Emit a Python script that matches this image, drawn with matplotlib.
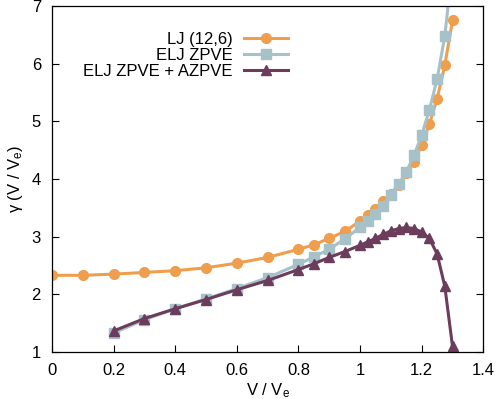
import matplotlib
matplotlib.use("Agg")
import matplotlib.pyplot as plt

plt.rcParams['font.family'] = ['Liberation Sans', 'DejaVu Sans']
plt.rcParams['mathtext.fontset'] = 'custom'
plt.rcParams['mathtext.rm'] = 'Liberation Sans'
plt.rcParams['mathtext.it'] = 'Liberation Sans:italic'

# Data
lj_x = [0, 0.1, 0.2, 0.3, 0.4, 0.5, 0.6, 0.7, 0.8, 0.85, 0.9, 0.95, 1.0, 1.025,
        1.05, 1.075, 1.1, 1.125, 1.15, 1.175, 1.2, 1.225, 1.25, 1.275, 1.3]
lj_y = [2.33, 2.33, 2.35, 2.38, 2.41, 2.46, 2.54, 2.64, 2.78, 2.86, 2.97, 3.09, 3.27, 3.37,
        3.48, 3.61, 3.74, 3.90, 4.10, 4.30, 4.59, 4.95, 5.39, 5.97, 6.75]

zp_x = [0.2, 0.3, 0.4, 0.5, 0.6, 0.7, 0.8, 0.85, 0.9, 0.95, 1.0, 1.025, 1.05, 1.075,
        1.1, 1.125, 1.15, 1.175, 1.2, 1.225, 1.25, 1.275, 1.3]
zp_y = [1.33, 1.56, 1.75, 1.92, 2.10, 2.29, 2.52, 2.65, 2.78, 2.96, 3.16, 3.27, 3.40, 3.54,
        3.73, 3.91, 4.12, 4.41, 4.76, 5.20, 5.73, 6.48, 7.7]

az_x = [0.2, 0.3, 0.4, 0.5, 0.6, 0.7, 0.8, 0.85, 0.9, 0.95, 1.0, 1.025, 1.05, 1.075,
        1.1, 1.125, 1.15, 1.175, 1.2, 1.225, 1.25, 1.275, 1.3]
az_y = [1.365, 1.58, 1.75, 1.91, 2.08, 2.24, 2.43, 2.53, 2.64, 2.74, 2.85, 2.91, 2.97, 3.04,
        3.10, 3.14, 3.16, 3.14, 3.08, 2.97, 2.70, 2.14, 1.10]

labels = ["LJ (12,6)", "ELJ ZPVE", "ELJ ZPVE + AZPVE"]
colors = ["#EE9E4C", "#A6C1C7", "#6C3C5C"]

xticks = [0, 0.2, 0.4, 0.6, 0.8, 1.0, 1.2, 1.4]
xticklabels = ["0", "0.2", "0.4", "0.6", "0.8", "1", "1.2", "1.4"]
yticks = [1, 2, 3, 4, 5, 6, 7]

FS = 12

fig = plt.figure(figsize=(4.98, 3.99), dpi=100)
ax = fig.add_axes([0.1044, 0.1178, 0.8661, 0.8672])

ax.plot(lj_x, lj_y, color=colors[0], lw=2.2, marker='o', ms=7, label=labels[0])
ax.plot(zp_x, zp_y, color=colors[1], lw=2.2, marker='s', ms=7, label=labels[1])
ax.plot(az_x, az_y, color=colors[2], lw=2.2, marker='^', ms=7.5, label=labels[2])

ax.set_xlim(0, 1.4)
ax.set_ylim(1, 7)
ax.set_xticks(xticks)
ax.set_xticklabels(xticklabels)
ax.set_yticks(yticks)
ax.tick_params(axis='both', direction='in', length=5, width=0.8, labelsize=FS,
               right=True, top=False)
ax.tick_params(axis='y', pad=8)
ax.tick_params(axis='x', pad=8)
for s in ax.spines.values():
    s.set_linewidth(0.9)

ax.set_xlabel(r"V / V$_\mathrm{e}$", fontsize=FS, labelpad=2)
ax.set_ylabel(r"γ (V / V$_\mathrm{e}$)", fontsize=FS, labelpad=5)

leg = ax.legend(loc='upper right', bbox_to_anchor=(0.547, 0.925), markerfirst=False,
                frameon=False, fontsize=FS, handlelength=2.64, handletextpad=0.66,
                labelspacing=0.05, borderaxespad=0, borderpad=0)

fig.savefig("out.png", dpi=100)
